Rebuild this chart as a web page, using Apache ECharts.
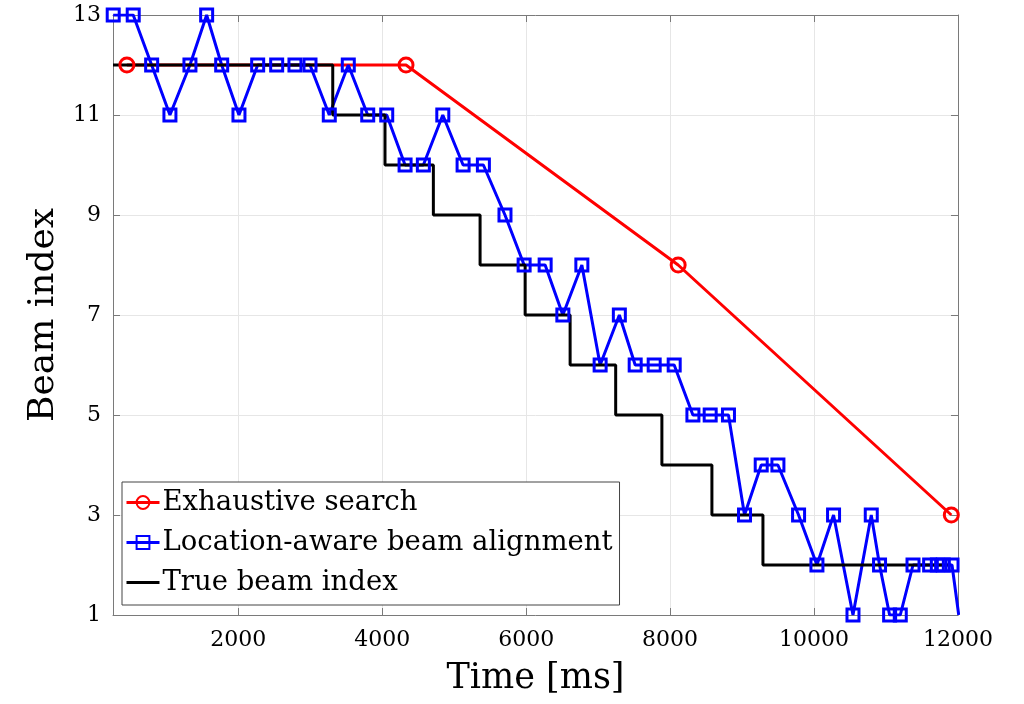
<!DOCTYPE html>
<html>
<head>
<meta charset="utf-8">
<script src="https://cdn.jsdelivr.net/npm/echarts@6/dist/echarts.min.js"></script>
<style>
html,body{margin:0;padding:0;background:#fff;}
#chart{width:1024px;height:704px;}
</style>
</head>
<body>
<div id="chart"></div>
<script>
// beam index over time
var searchTime = [453, 4331, 8112, 11907];
var searchBeam = [12, 12, 8, 3];

var alignTime = [263, 541, 797, 1051, 1329, 1561, 1770, 2010, 2270, 2534, 2788, 2997,
	3265, 3529, 3799, 4063, 4318, 4572, 4842, 5124, 5406, 5706, 5972, 6264, 6510,
	6774, 7028, 7295, 7515, 7779, 8057, 8317, 8557, 8811, 9034, 9266, 9498, 9785,
	10040, 10271, 10541, 10795, 10910, 11050, 11198, 11375, 11606, 11713, 11796,
	11917, 12010];
var alignBeam = [13, 13, 12, 11, 12, 13, 12, 11, 12, 12, 12, 12,
	11, 12, 11, 11, 10, 10, 11, 10, 10, 9, 8, 8, 7,
	8, 6, 7, 6, 6, 6, 5, 5, 5, 3, 4, 4, 3,
	2, 3, 1, 3, 2, 1, 1, 2, 2, 2, 2,
	2, 1];

var trueTime = [260, 3313, 4039, 4711, 5360, 5986, 6611, 7244, 7886, 8581, 9290, 11893];
var trueBeam = [12, 11, 10, 9, 8, 7, 6, 5, 4, 3, 2, 2];

var xTicks = [2000, 4000, 6000, 8000, 10000, 12000];
var yTicks = [1, 3, 5, 7, 9, 11, 13];

var serifFont = 'DejaVu Serif';
var axisGray = '#7a7a7a';

function zip(xs, ys){
	var out = [];
	for (var i = 0; i < xs.length; i++) {
		out.push([xs[i], ys[i]]);
	}
	return out;
}

function makeX(pos, showLabel){
	return {
		type: 'value',
		position: pos,
		min: 260,
		max: 12000,
		axisLine: {show: true, onZero: false, lineStyle: {color: axisGray, width: 1}},
		axisTick: {show: true, inside: true, length: 7, customValues: xTicks,
			lineStyle: {color: axisGray}},
		axisLabel: {show: showLabel, customValues: xTicks, color: '#000',
			fontFamily: serifFont, fontSize: 22, margin: 14,
			formatter: function(v){ return String(v); }},
		splitLine: {show: showLabel, lineStyle: {color: '#e6e6e6', width: 1}},
		name: showLabel ? 'Time [ms]' : '',
		nameLocation: 'middle',
		nameGap: 46,
		nameTextStyle: {color: '#000', fontFamily: serifFont, fontSize: 35}
	};
}

function makeY(pos, showLabel){
	return {
		type: 'value',
		position: pos,
		min: 1,
		max: 13,
		axisLine: {show: true, onZero: false, lineStyle: {color: axisGray, width: 1}},
		axisTick: {show: true, inside: true, length: 7, customValues: yTicks,
			lineStyle: {color: axisGray}},
		axisLabel: {show: showLabel, customValues: yTicks, color: '#000',
			fontFamily: serifFont, fontSize: 22, margin: 12},
		splitLine: {show: showLabel, lineStyle: {color: '#e6e6e6', width: 1}},
		name: showLabel ? 'Beam index' : '',
		nameLocation: 'middle',
		nameGap: 42,
		nameTextStyle: {color: '#000', fontFamily: serifFont, fontSize: 36}
	};
}

var chart = echarts.init(document.getElementById('chart'), null, {renderer: 'canvas'});

var options = {
	animation: false,
	backgroundColor: '#fff',
	grid: {left: 113, right: 66, top: 15, bottom: 89, containLabel: false},
	legend: {
		orient: 'vertical',
		left: 122,
		top: 482,
		padding: [5, 7, 7, 3],
		itemGap: 9,
		itemWidth: 33,
		itemHeight: 16,
		backgroundColor: '#fff',
		borderColor: '#444',
		borderWidth: 1,
		lineStyle: {width: 3},
		textStyle: {color: '#000', fontFamily: serifFont, fontSize: 27.5, lineHeight: 31,
			padding: [0, 0, 0, -2]},
		data: [
			'Exhaustive search',
			'Location-aware beam alignment',
			{name: 'True beam index', icon: 'path://M0,0M0,6.5h33v3h-33zM33,16',
				itemStyle: {color: '#000'}}
		]
	},
	xAxis: [makeX('bottom', true), makeX('top', false)],
	yAxis: [makeY('left', true), makeY('right', false)],
	series: [
		{
			name: 'Exhaustive search',
			type: 'line',
			xAxisIndex: 0,
			yAxisIndex: 0,
			data: zip(searchTime, searchBeam),
			symbol: 'circle',
			symbolSize: 14,
			lineStyle: {color: '#ff0000', width: 3},
			itemStyle: {color: 'rgba(0,0,0,0)', borderColor: '#ff0000', borderWidth: 3}
		},
		{
			name: 'Location-aware beam alignment',
			type: 'line',
			xAxisIndex: 0,
			yAxisIndex: 0,
			data: zip(alignTime, alignBeam),
			symbol: 'rect',
			symbolSize: 12,
			showAllSymbol: true,
			clip: true,
			lineStyle: {color: '#0000ff', width: 3},
			itemStyle: {color: 'rgba(0,0,0,0)', borderColor: '#0000ff', borderWidth: 3}
		},
		{
			name: 'True beam index',
			type: 'line',
			xAxisIndex: 0,
			yAxisIndex: 0,
			step: 'end',
			data: zip(trueTime, trueBeam),
			showSymbol: false,
			lineStyle: {color: '#000', width: 3},
			itemStyle: {color: '#000'}
		}
	]
};

chart.setOption(options);
</script>
</body>
</html>
